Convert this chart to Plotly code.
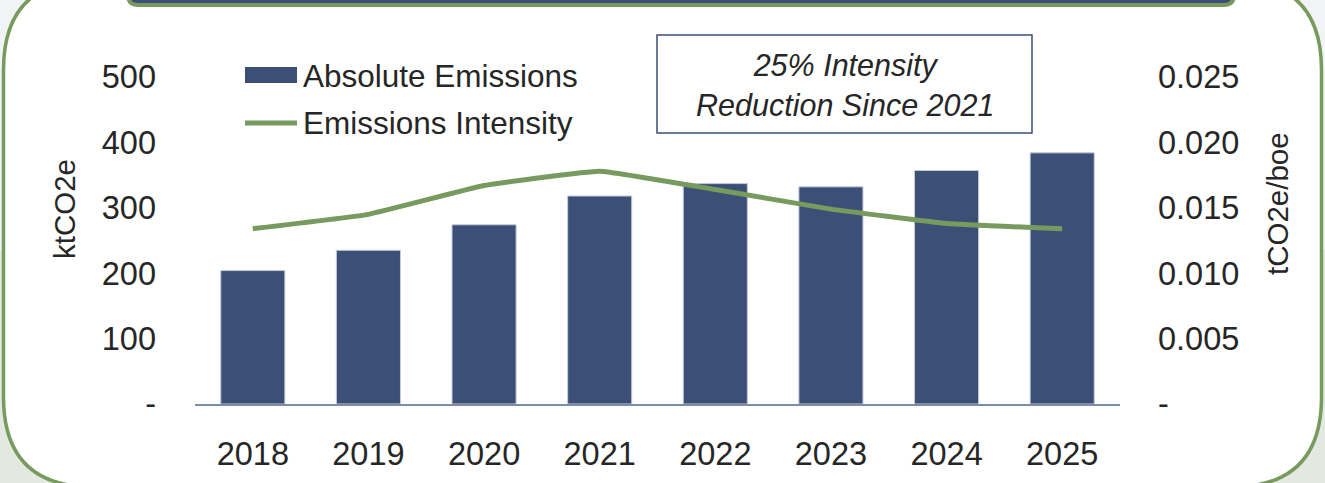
import plotly.graph_objects as go

# ── Data ──────────────────────────────────────────────────────────────────────
years = ["2018", "2019", "2020", "2021", "2022", "2023", "2024", "2025"]
absolute_emissions = [204, 235, 274, 318, 337, 332, 357, 384]          # ktCO2e
emissions_intensity = [0.0134, 0.0145, 0.0167, 0.0178,
                       0.0164, 0.0149, 0.0138, 0.0134]                 # tCO2e/boe
left_ticks = [0, 100, 200, 300, 400, 500]
left_labels = ["-", "100", "200", "300", "400", "500"]
right_ticks = [0, 0.005, 0.010, 0.015, 0.020, 0.025]
right_labels = ["-", "0.005", "0.010", "0.015", "0.020", "0.025"]

NAVY = "#3c4f76"
GREEN = "#779a5f"
TEXT = "#262626"
FONT = "Liberation Sans, Arial, sans-serif"
TICK = 32.5

W, H = 1325, 483
L, R, T, B = 195, 205, 77, 79
PW, PH = W - L - R, H - T - B


def px(x, y):
    """pixel -> paper coordinates"""
    return (x - L) / PW, (H - B - y) / PH


def rounded_path(x0, y0, x1, y1, r):
    pts = []
    a = px(x0 + r, y0); pts.append(f"M{a[0]},{a[1]}")
    a = px(x1 - r, y0); pts.append(f"L{a[0]},{a[1]}")
    c = px(x1, y0); e = px(x1, y0 + r); pts.append(f"Q{c[0]},{c[1]} {e[0]},{e[1]}")
    a = px(x1, y1 - r); pts.append(f"L{a[0]},{a[1]}")
    c = px(x1, y1); e = px(x1 - r, y1); pts.append(f"Q{c[0]},{c[1]} {e[0]},{e[1]}")
    a = px(x0 + r, y1); pts.append(f"L{a[0]},{a[1]}")
    c = px(x0, y1); e = px(x0, y1 - r); pts.append(f"Q{c[0]},{c[1]} {e[0]},{e[1]}")
    a = px(x0, y0 + r); pts.append(f"L{a[0]},{a[1]}")
    c = px(x0, y0); e = px(x0 + r, y0); pts.append(f"Q{c[0]},{c[1]} {e[0]},{e[1]}")
    return " ".join(pts) + " Z"


fig = go.Figure()

fig.add_trace(go.Bar(
    x=years, y=absolute_emissions, name="Absolute Emissions",
    marker=dict(color=NAVY, line=dict(color="#c3cad8", width=1)),
    yaxis="y",
))
fig.add_trace(go.Scatter(
    x=years, y=emissions_intensity, name="Emissions Intensity",
    mode="lines", line=dict(color=GREEN, width=5, shape="spline", smoothing=0.3),
    yaxis="y2",
))

shapes = [
    # background tint in lower half
    dict(type="rect", xref="paper", yref="paper", layer="below",
         x0=px(0, 0)[0], x1=px(W, 0)[0], y0=px(0, H)[1], y1=px(0, 250)[1],
         fillcolor="#e3e8e1", line=dict(width=0)),
    # main rounded panel
    dict(type="path", xref="paper", yref="paper", layer="below",
         path=rounded_path(3.5, -20, 1321.5, 487, 90),
         fillcolor="#ffffff", line=dict(color=GREEN, width=3.5)),
    # header box peeking from the top
    dict(type="path", xref="paper", yref="paper", layer="below",
         path=rounded_path(128, -40, 1234, 5, 10),
         fillcolor=NAVY, line=dict(color=GREEN, width=4)),
    # annotation box
    dict(type="rect", xref="paper", yref="paper",
         x0=px(657, 0)[0], x1=px(1032, 0)[0], y0=px(0, 133)[1], y1=px(0, 35)[1],
         fillcolor="rgba(0,0,0,0)", line=dict(color=NAVY, width=1.5)),
    # legend symbols
    dict(type="rect", xref="paper", yref="paper",
         x0=px(245, 0)[0], x1=px(297, 0)[0], y0=px(0, 83)[1], y1=px(0, 67)[1],
         fillcolor=NAVY, line=dict(width=0)),
    dict(type="line", xref="paper", yref="paper",
         x0=px(245, 0)[0], x1=px(297, 0)[0], y0=px(0, 123)[1], y1=px(0, 123)[1],
         line=dict(color=GREEN, width=5)),
]

annotations = [
    dict(text="Absolute Emissions", x=px(301, 0)[0], y=px(0, 76)[1],
         xanchor="left", yanchor="middle"),
    dict(text="Emissions Intensity", x=px(301, 0)[0], y=px(0, 123)[1],
         xanchor="left", yanchor="middle"),
    dict(text="<i>25% Intensity<br>Reduction Since 2021</i>",
         x=px(845, 0)[0], y=px(0, 85)[1], xanchor="center", yanchor="middle",
         font=dict(size=30.5)),
    dict(text="ktCO2e", x=px(64, 0)[0], y=px(0, 209)[1], textangle=-90,
         xanchor="center", yanchor="middle", font=dict(size=29.5)),
    dict(text="tCO2e/boe", x=px(1277, 0)[0], y=px(0, 204)[1], textangle=-90,
         xanchor="center", yanchor="middle", font=dict(size=29.5)),
]
for a in annotations:
    a.update(xref="paper", yref="paper", showarrow=False)
    a.setdefault("font", dict(size=31.5))
    a["font"] = dict(family=FONT, color=TEXT, **a["font"])

fig.update_layout(
    width=W, height=H,
    margin=dict(l=L, r=R, t=T, b=B, autoexpand=False),
    paper_bgcolor="#f2f3f5",
    plot_bgcolor="rgba(0,0,0,0)",
    font=dict(family=FONT, size=TICK, color=TEXT),
    showlegend=False,
    bargap=0.446,
    shapes=shapes,
    annotations=annotations,
    xaxis=dict(showline=True, linecolor="#7d8cab", linewidth=2,
               showgrid=False, ticks="", ticklabelstandoff=20,
               tickfont=dict(size=TICK, color=TEXT)),
    yaxis=dict(range=[0, 500], tickvals=left_ticks, ticktext=left_labels,
               showgrid=False, zeroline=False, showline=False, ticks="",
               ticklabelstandoff=38, tickfont=dict(size=TICK, color=TEXT)),
    yaxis2=dict(range=[0, 0.025], tickvals=right_ticks, ticktext=right_labels,
                overlaying="y", side="right", showgrid=False, zeroline=False,
                showline=False, ticks="", ticklabelstandoff=37,
                tickfont=dict(size=TICK, color=TEXT)),
)

# page body has a default 8px margin; drop it so the figure sits at 0,0
fig.write_html("out.html", config={"displayModeBar": False},
               post_script="document.body.style.margin='0';")
